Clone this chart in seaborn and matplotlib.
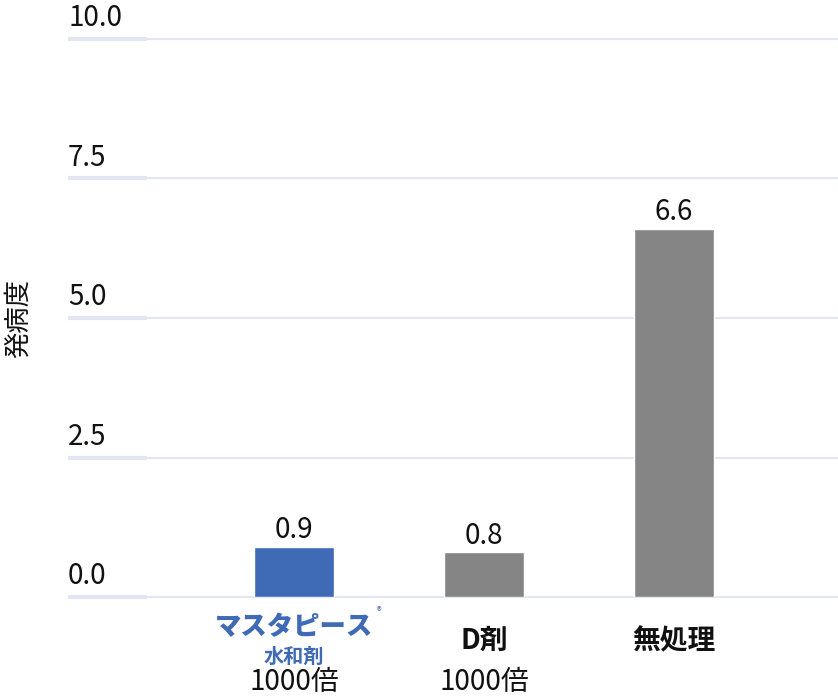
import matplotlib
matplotlib.use("Agg")
import matplotlib.pyplot as plt
import matplotlib.transforms as mtransforms
import seaborn as sns
import pandas as pd

categories = ["マスタピース", "D剤", "無処理"]
values = [0.9, 0.8, 6.6]
value_labels = ["0.9", "0.8", "6.6"]
bar_colors = ["#3F6AB5", "#858585", "#858585"]
yticks = [0.0, 2.5, 5.0, 7.5, 10.0]
ytick_labels = ["0.0", "2.5", "5.0", "7.5", "10.0"]
ylabel = "発病度"

sns.set_theme(style="white")
plt.rcParams['font.family'] = ['Noto Sans CJK JP', 'DejaVu Sans']

W, H = 838, 698
fig = plt.figure(figsize=(W / 100, H / 100), dpi=100)
ax = fig.add_axes([147 / W, (H - 597) / H, (838 - 147) / W, (597 - 39) / H])

df = pd.DataFrame({"cat": categories, "val": values})
sns.barplot(data=df, x="cat", y="val", hue="cat", palette=bar_colors,
            width=0.42, legend=False, ax=ax, saturation=1)

ax.set_ylim(0, 10)
ax.set_xlim(-0.774, 2.863)
for s in ax.spines.values():
    s.set_visible(False)

grid_c = "#E1E6F2"
ax.set_yticks(yticks)
ax.set_yticklabels([])
ax.yaxis.grid(True, color=grid_c, linewidth=1.5)
ax.set_axisbelow(True)
ax.tick_params(axis="y", length=57, width=3, color=grid_c, left=True, direction="out", pad=0)
for t in ax.yaxis.get_major_ticks():
    t.gridline.set_clip_on(False)

ytr = mtransforms.blended_transform_factory(fig.transFigure, ax.transData)
for v, lab in zip(yticks, ytick_labels):
    ax.annotate(lab, (68 / W, v), xycoords=ytr, xytext=(0, 15),
                textcoords="offset points", ha="left", va="center",
                fontsize=20, color="#111111", annotation_clip=False)

fig.text(18 / W, (H - 318) / H, ylabel, rotation=90, ha="center", va="center",
         fontsize=19, color="#111111")

# value labels
for i, (v, lab) in enumerate(zip(values, value_labels)):
    ax.annotate(lab, (i, v), xytext=(0, 12), textcoords="offset points",
                ha="center", va="center", fontsize=20, color="#111111")

# x labels
ax.set_xticks(range(len(categories)))
ax.set_xticklabels([])
ax.tick_params(axis="x", length=0)
ax.set_xlabel("")
ax.set_ylabel("")
xtr = mtransforms.blended_transform_factory(ax.transData, fig.transFigure)
blue = "#3F6AB5"
ax.text(0, (H - 627) / H, "マスタピース", transform=xtr, ha="center", va="center",
        fontsize=19, fontweight="black", color=blue, style="italic")
ax.text(0.445, (H - 612) / H, "®", transform=xtr, ha="center", va="center",
        fontsize=7, color=blue)
ax.text(0, (H - 656) / H, "水和剤", transform=xtr, ha="center", va="center",
        fontsize=14.5, fontweight="bold", color=blue)
ax.text(0, (H - 682) / H, "1000倍", transform=xtr, ha="center", va="center",
        fontsize=20, color="#111111")
ax.text(1, (H - 641) / H, "D剤", transform=xtr, ha="center", va="center",
        fontsize=20, fontweight="bold", color="#111111")
ax.text(1, (H - 682) / H, "1000倍", transform=xtr, ha="center", va="center",
        fontsize=20, color="#111111")
ax.text(2, (H - 641) / H, "無処理", transform=xtr, ha="center", va="center",
        fontsize=20, fontweight="bold", color="#111111")

fig.savefig("out.png", dpi=100)
